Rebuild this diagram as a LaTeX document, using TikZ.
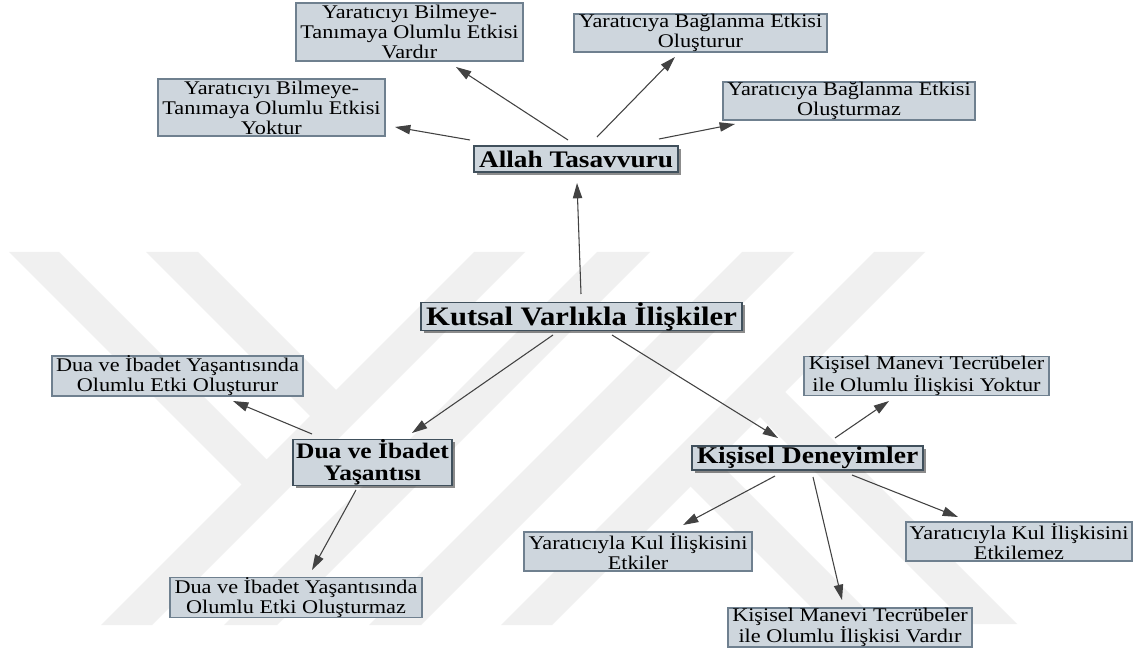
\documentclass[tikz,border=0pt]{standalone}
\usepackage{fontspec}
\setmainfont{Liberation Serif}[FakeStretch=1.15]
\usetikzlibrary{arrows.meta,calc,shadows}

\definecolor{boxfill}{RGB}{206,214,221}
\definecolor{boxline}{RGB}{111,128,143}
\definecolor{hubline}{RGB}{64,80,92}
\definecolor{wm}{RGB}{240,240,240}
\definecolor{conn}{RGB}{66,66,66}

\begin{document}
\begin{tikzpicture}[x=0.75pt,y=-0.75pt,
  sz/.style 2 args={minimum width=#1*0.75pt, minimum height=#2*0.75pt},
  leaf/.style={draw=boxline, line width=1pt, fill=boxfill, inner sep=0pt,
    align=center, font=\fontsize{14.5}{15}\selectfont},
  hub/.style={draw=hubline, line width=1.1pt, fill=boxfill, inner sep=0pt,
    align=center,
    drop shadow={shadow xshift=2pt, shadow yshift=-2pt, fill=black, opacity=0.45}},
  arr/.style={draw=conn, line width=0.8pt, -{Triangle[length=11.5pt,width=7pt]}, conn}]

% canvas
\fill[white] (0,0) rectangle (1141,655);
\useasboundingbox (0,0) rectangle (1141,655);

% faint striped emblem in the background
\begin{scope}[wm]
  \fill (474,252) -- (525,252) -- (152,625) -- (101,625) -- cycle;
  \fill (597,252) -- (650,252) -- (277,625) -- (224,625) -- cycle;
  \fill (742,252) -- (794,252) -- (421,625) -- (369,625) -- cycle;
  \fill (874,252) -- (925,252) -- (552,625) -- (501,625) -- cycle;
  \fill (9,252) -- (59,252) -- (279,472) -- (254,497) -- cycle;
  \fill (146,252) -- (198,252) -- (348.5,402.5) -- (322.5,428.5) -- cycle;
  \fill (1017,624) -- (967,624) -- (747,404) -- (772,379) -- cycle;
  \fill (880,624) -- (828,624) -- (677.5,473.5) -- (703.5,447.5) -- cycle;
\end{scope}

% central and secondary nodes
\node[hub, sz={321}{27}, font=\bfseries\fontsize{20}{20}\selectfont]
  (kutsal) at (581.5,316.5) {Kutsal Varlıkla İlişkiler};
\node[hub, sz={204}{26}, font=\bfseries\fontsize{17.8}{18}\selectfont]
  (allah) at (576,159) {Allah Tasavvuru};
\node[hub, sz={159}{41}, font=\bfseries\fontsize{16.6}{16.5}\selectfont]
  (dua) at (372.5,462.5) {Dua ve İbadet\\Yaşantısı};
\node[hub, sz={231}{24}, font=\bfseries\fontsize{18}{18}\selectfont]
  (kis) at (807.5,458) {Kişisel Deneyimler};

% outcome boxes
\node[leaf, sz={227}{58}] (b1) at (409.5,32)
  {Yaratıcıyı Bilmeye-\\Tanımaya Olumlu Etkisi\\Vardır};
\node[leaf, sz={227}{57}] (b2) at (271.5,107.5)
  {Yaratıcıyı Bilmeye-\\Tanımaya Olumlu Etkisi\\Yoktur};
\node[leaf, sz={253}{38}] (b3) at (700.5,33)
  {Yaratıcıya Bağlanma Etkisi\\Oluşturur};
\node[leaf, sz={252}{38}] (b4) at (849,101)
  {Yaratıcıya Bağlanma Etkisi\\Oluşturmaz};
\node[leaf, sz={251}{38}] (d1) at (177.5,376)
  {Dua ve İbadet Yaşantısında\\Olumlu Etki Oluşturur};
\node[leaf, sz={252}{39}] (d2) at (296,597.5)
  {Dua ve İbadet Yaşantısında\\Olumlu Etki Oluşturmaz};
\node[leaf, sz={245}{38}] (k1) at (926.5,376)
  {Kişisel Manevi Tecrübeler\\ile Olumlu İlişkisi Yoktur};
\node[leaf, sz={228}{39}] (k2) at (638,551.5)
  {Yaratıcıyla Kul İlişkisini\\Etkiler};
\node[leaf, sz={244}{39}] (k3) at (850,627.5)
  {Kişisel Manevi Tecrübeler\\ile Olumlu İlişkisi Vardır};
\node[leaf, sz={226}{39}] (k4) at (1019,541.5)
  {Yaratıcıyla Kul İlişkisini\\Etkilemez};

% connectors
\draw[arr] ($(kutsal)+(-0.5,-22.5)$) -- ($(allah)+(1,24)$);
\draw[arr] ($(allah)+(-106,-19)$) -- ($(b2)+(123.5,19.5)$);
\draw[arr] ($(allah)+(-8,-19)$) -- ($(b1)+(46.5,35)$);
\draw[arr] ($(allah)+(21,-22)$) -- ($(b3)+(-25.5,24)$);
\draw[arr] ($(allah)+(83,-20)$) -- ($(b4)+(-114,23)$);
\draw[arr] ($(kutsal)+(-28.5,18.5)$) -- ($(dua)+(39.5,-29.5)$);
\draw[arr] ($(kutsal)+(30.5,18.5)$) -- ($(kis)+(-29.5,-20)$);
\draw[arr] ($(dua)+(-60.5,-28.5)$) -- ($(d1)+(55.5,25)$);
\draw[arr] ($(dua)+(-16.5,27.5)$) -- ($(d2)+(16,-27.5)$);
\draw[arr] ($(kis)+(27.5,-20)$) -- ($(k1)+(-37.5,25)$);
\draw[arr] ($(kis)+(-32.5,18)$) -- ($(k2)+(45,-26.5)$);
\draw[arr] ($(kis)+(5.5,19)$) -- ($(k3)+(-8,-27.5)$);
\draw[arr] ($(kis)+(44.5,17)$) -- ($(k4)+(-61,-24.5)$);
\end{tikzpicture}
\end{document}
